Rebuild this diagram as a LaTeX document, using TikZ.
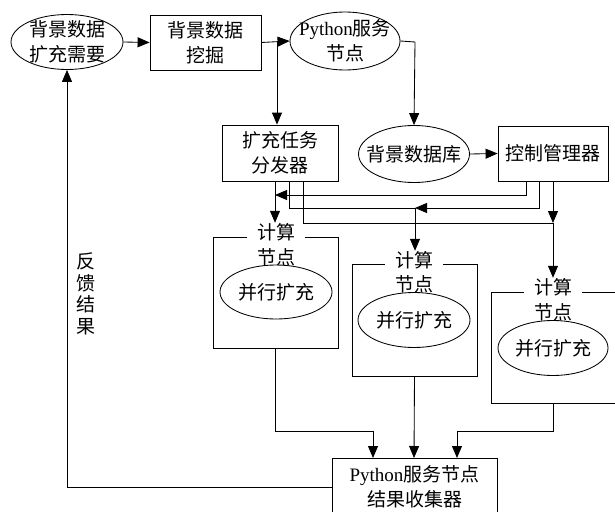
\documentclass[tikz,border=0pt]{standalone}
\usepackage{fontspec}
\setmainfont{Liberation Serif}
\newfontfamily\cjk{Noto Sans CJK SC}
\usetikzlibrary{shapes.geometric,arrows.meta,calc}

\begin{document}
\begin{tikzpicture}[x=1pt,y=-1pt,line width=0.85pt,
  txt/.style={font=\cjk\fontsize{19}{25}\selectfont,align=center,inner sep=0pt},
  box/.style={draw,rectangle,inner sep=0pt,txt},
  oval/.style={draw,ellipse,inner sep=0pt},
  title/.style={txt,fill=white,inner xsep=10pt,inner ysep=0pt},
  arr/.style={-{Triangle[length=12pt,width=10pt]}}]
\useasboundingbox (0,0) rectangle (615,511);
\fill[white] (0,0) rectangle (615,511);
\begin{scope}
\clip (0,0) rectangle (615,511);

% top row
\node[oval,minimum width=112pt,minimum height=55pt,
      label={[txt]center:背景数据\\扩充需要}] (need) at (67,42) {};
\node[box,minimum width=111pt,minimum height=55pt] (mine) at (205.5,42.5) {背景数据\\挖掘};
\node[oval,minimum width=110pt,minimum height=58pt,
      label={[txt]center:{\rmfamily Python}服务\\节点}] (py) at (345,41) {};

% middle row
\node[box,minimum width=116pt,minimum height=56pt] (dist) at (280,153) {扩充任务\\分发器};
\node[oval,minimum width=111pt,minimum height=57pt,
      label={[txt]center:背景数据库}] (db) at (414,154) {};
\node[box,minimum width=110pt,minimum height=55pt] (ctrl) at (553,153.5) {控制管理器};

% compute nodes
\node[draw,minimum width=125pt,minimum height=111pt,inner sep=0pt] (c1) at (275.5,292.5) {};
\node[draw,minimum width=125pt,minimum height=112pt,inner sep=0pt] (c2) at (414.5,320) {};
\node[draw,minimum width=125pt,minimum height=111pt,inner sep=0pt] (c3) at (553.5,347.5) {};
\node[title] (t1) at (276,232) {计算};
\node[title] (t2) at (414,260) {计算};
\node[title] (t3) at (553,287) {计算};
\node[txt] (n1) at (276,257) {节点};
\node[txt] (n2) at (414,284) {节点};
\node[txt] (n3) at (553,312) {节点};
\node[oval,minimum width=112pt,minimum height=54pt,
      label={[txt]center:并行扩充}] (p1) at (276,292) {};
\node[oval,minimum width=112pt,minimum height=55pt,
      label={[txt]center:并行扩充}] (p2) at (414,320) {};
\node[oval,minimum width=110pt,minimum height=55pt,
      label={[txt]center:并行扩充}] (p3) at (553,348) {};

% collector
\node[box,minimum width=165pt,minimum height=58pt] (col) at (414.5,487) {{\rmfamily Python}服务节点\\结果收集器};

% feedback label
\node[txt,font=\cjk\fontsize{19}{21.5}\selectfont] (fb) at (86,294) {反\\馈\\结\\果};

% tap points
\coordinate (mj) at (277,42.5);
\coordinate (pj) at (415,42);
\coordinate (dA) at (275,181);
\coordinate (dB) at (289,181);
\coordinate (dC) at (303,181);
\coordinate (cA) at (526,181);
\coordinate (cB) at (539,181);
\coordinate (cC) at (553,181);
\coordinate (jA) at (275,195);
\coordinate (jB) at (415,208);
\coordinate (jC) at (553,223);
\coordinate (kA) at (373,458);
\coordinate (kB) at (414,458);
\coordinate (kC) at (457,458);

% top connectors
\draw[arr] (need.east) -- (mine.west);
\draw[arr] (mine.east) -- (py.west);
\draw[arr] (mj) -- (mj |- dist.north);
\draw (py.east) -- (pj);
\draw[arr] (pj) -- (db.north);
\draw[arr] (db.east) -- (ctrl.west);

% distributor / controller wiring
\draw[arr] (cA) |- (jA);
\draw[arr] (dA) -- (dA |- t1.north);
\draw[arr] (cB) |- (jB);
\draw (jB) -| (dB);
\draw[arr] (jB) -- (jB |- t2.north);
\draw[arr] (cC) -- (jC);
\draw (dC) |- (jC);
\draw[arr] (jC) -- (jC |- t3.north);

% results to collector
\draw[arr] (c1.south) |- ($(kA)+(0,-27)$) -- (kA);
\draw[arr] (c2.south) -- (kB);
\draw[arr] (c3.south) |- ($(kC)+(0,-27)$) -- (kC);

% feedback loop
\draw[arr] (col.west) -| (need.south);
\end{scope}
\end{tikzpicture}
\end{document}
